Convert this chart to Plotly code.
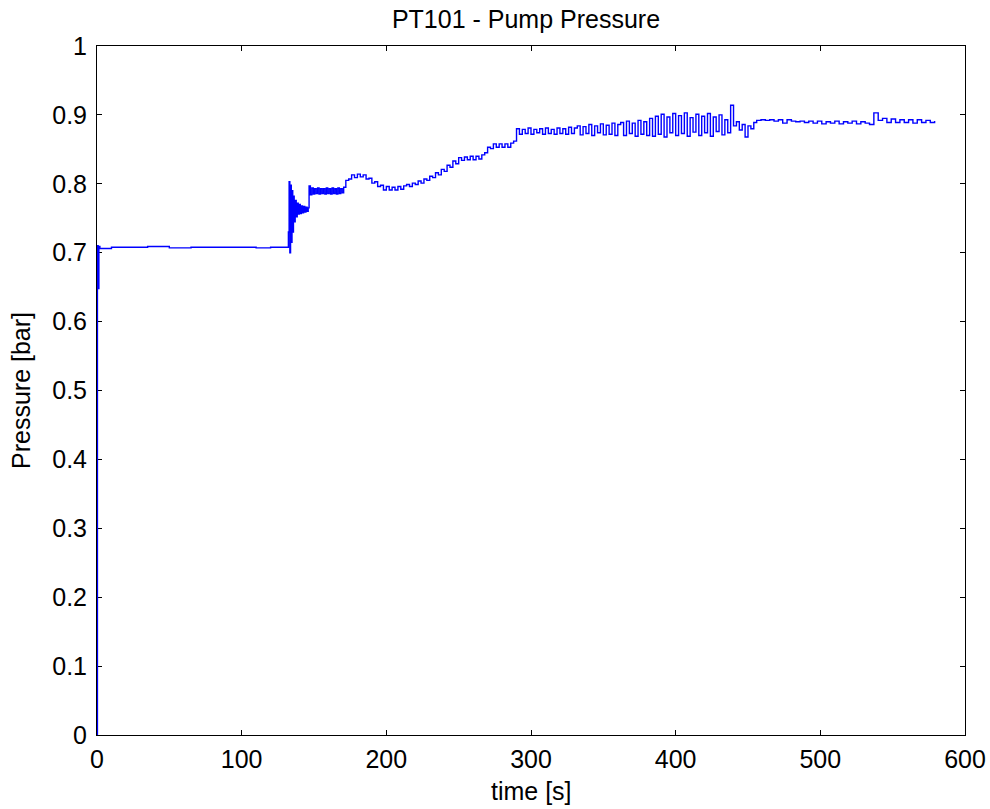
import plotly.graph_objects as go

# ---- data (time in s, pressure in bar) ----
t_start = [0, 0.3, 0.8, 1.3, 2, 10, 20, 35, 50, 65, 80, 95, 110, 120, 128, 131.5]
p_start = [0.0, 0.71, 0.648, 0.709, 0.706, 0.708, 0.708, 0.709, 0.707, 0.708,
           0.708, 0.708, 0.707, 0.708, 0.708, 0.708]

t_jump = [132.3, 132.8, 133.3, 133.8, 134.3, 134.8, 135.3, 135.8, 136.3, 137, 137.7,
          138.4, 139.1, 139.8, 140.5, 141.2, 142, 142.8, 143.6, 144.4, 145.2, 146]
p_jump = [0.73, 0.803, 0.70, 0.798, 0.715, 0.79, 0.73, 0.782, 0.745, 0.776, 0.752,
          0.772, 0.756, 0.770, 0.757, 0.768, 0.758, 0.767, 0.759, 0.766, 0.760, 0.765]

t_step = [146.6, 147.5, 148.5, 149.5, 150.5, 151.5, 152.5, 153.5, 154.5, 155.5, 156.5,
          157.5, 158.5, 159.5, 160.5, 161.5, 162.5, 163.5, 164.5, 165.5, 166.5, 167.5,
          168.5, 169.5]
p_step = [0.797, 0.784, 0.794, 0.785, 0.793, 0.786, 0.794, 0.785, 0.793, 0.786, 0.793,
          0.785, 0.794, 0.786, 0.793, 0.785, 0.794, 0.786, 0.793, 0.785, 0.794, 0.786,
          0.793, 0.787]

t_hump = [170.5, 172, 174, 176, 178, 180, 182, 184, 186, 188, 190, 192, 194, 196, 198,
          200, 202, 204, 206, 208, 210, 212]
p_hump = [0.795, 0.805, 0.807, 0.813, 0.809, 0.814, 0.810, 0.813, 0.807, 0.808, 0.801,
          0.803, 0.796, 0.798, 0.791, 0.796, 0.791, 0.795, 0.791, 0.796, 0.792, 0.797]

t_rise = list(range(214, 289, 2))
p_rise = [0.799, 0.796, 0.801, 0.799, 0.804, 0.801, 0.807, 0.805, 0.811, 0.809,
          0.816, 0.813, 0.821, 0.818, 0.827, 0.824, 0.833, 0.829, 0.838, 0.834,
          0.839, 0.835, 0.840, 0.835, 0.840, 0.836, 0.842, 0.845, 0.853, 0.851,
          0.858, 0.853, 0.858, 0.853, 0.858, 0.853, 0.859, 0.862]

t_noisy = list(range(290, 455, 2))
p_noisy = [0.880, 0.872, 0.879, 0.873, 0.881, 0.872, 0.879, 0.874, 0.880, 0.872, 0.881,
           0.873, 0.879, 0.872, 0.881, 0.873, 0.880, 0.872, 0.882, 0.873, 0.881,
           0.884, 0.871, 0.883, 0.873, 0.886, 0.870, 0.884, 0.874, 0.887, 0.871,
           0.885, 0.872, 0.888, 0.870, 0.886,
           0.889, 0.870, 0.891, 0.873, 0.888, 0.869, 0.892, 0.872, 0.890, 0.870,
           0.895, 0.869, 0.898, 0.872, 0.901, 0.868, 0.897, 0.874, 0.902, 0.870,
           0.899, 0.873, 0.903, 0.869, 0.896, 0.875, 0.901, 0.870, 0.898, 0.874,
           0.902, 0.869, 0.897, 0.876, 0.900,
           0.871, 0.893, 0.874, 0.914, 0.884, 0.890, 0.878, 0.886, 0.868, 0.884,
           0.880, 0.889]

t_end = list(range(456, 580, 3))
p_end = [0.892, 0.893, 0.892, 0.893, 0.891, 0.893, 0.888, 0.893, 0.891, 0.890,
         0.891, 0.889, 0.891, 0.888, 0.891, 0.887, 0.890, 0.888, 0.891, 0.887,
         0.890, 0.888, 0.891, 0.887, 0.890, 0.888, 0.886, 0.903, 0.892, 0.895,
         0.889, 0.894, 0.889, 0.893, 0.889, 0.893, 0.888, 0.893, 0.889, 0.892,
         0.889, 0.891]

x_ticks = [0, 100, 200, 300, 400, 500, 600]
y_ticks = [0, 0.1, 0.2, 0.3, 0.4, 0.5, 0.6, 0.7, 0.8, 0.9, 1]
y_tick_text = ["0", "0.1", "0.2", "0.3", "0.4", "0.5", "0.6", "0.7", "0.8", "0.9", "1"]

segs = [(t_start, p_start), (t_jump, p_jump), (t_step, p_step), (t_hump, p_hump),
        (t_rise, p_rise), (t_noisy, p_noisy), (t_end, p_end)]
time_s, pressure = [], []
for tt, pp in segs:
    assert len(tt) == len(pp), (len(tt), len(pp))
    time_s += tt
    pressure += pp

font = "Liberation Sans, Arial, Helvetica, sans-serif"
FS = 25

fig = go.Figure(go.Scatter(x=time_s, y=pressure, mode="lines",
                           line=dict(color="rgb(0,0,255)", width=1.4, shape="hv")))

axis_common = dict(showgrid=False, zeroline=False, showline=True, linecolor="black",
                   linewidth=1, mirror="ticks", ticks="inside", ticklen=5,
                   tickcolor="black", tickfont=dict(family=font, size=FS, color="black"),
                   layer="below traces", automargin=False)

fig.update_xaxes(range=[0, 600], tickvals=x_ticks, ticklabelstandoff=2, **axis_common)
fig.update_yaxes(range=[0, 1], tickvals=y_ticks, ticktext=y_tick_text, ticklabelstandoff=4,
                 title=dict(text="Pressure [bar]", font=dict(family=font, size=FS, color="black"),
                            standoff=14), **axis_common)

fig.add_annotation(text="time [s]", xref="paper", yref="paper", x=0.5, y=0,
                   xanchor="center", yanchor="middle", yshift=-56, showarrow=False,
                   font=dict(family=font, size=FS, color="black"))

fig.update_layout(
    width=990, height=809,
    margin=dict(l=97, r=25, t=46, b=74, autoexpand=False),
    paper_bgcolor="white", plot_bgcolor="white",
    showlegend=False,
    title=dict(text="PT101 - Pump Pressure", x=526 / 990, xanchor="center",
               y=1 - 19 / 809, yanchor="middle",
               font=dict(family=font, size=FS, color="black")),
)

fig.write_html("out.html")
